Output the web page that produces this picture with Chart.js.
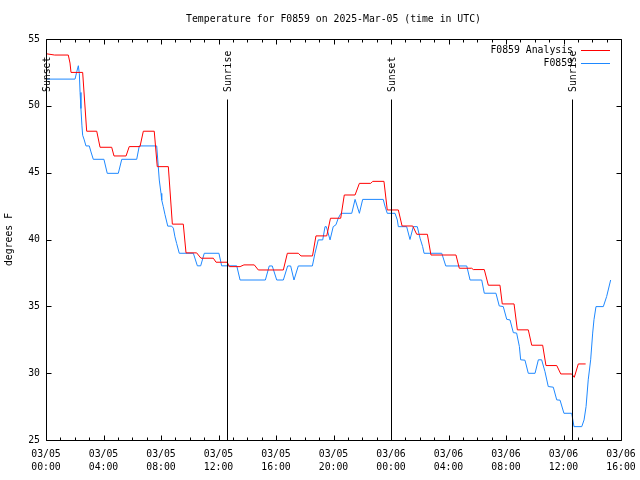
<!DOCTYPE html>
<html><head><meta charset="utf-8">
<script src="https://cdn.jsdelivr.net/npm/chart.js@4.4.1/dist/chart.umd.min.js"></script>
<style>html,body{margin:0;padding:0;background:#fff;}canvas{display:block;}</style>
</head><body>
<canvas id="c" width="640" height="480"></canvas>
<script>
// Hours since 2025-03-05 00:00 UTC
const analysisHours = [0, 0.6, 1.55, 1.67, 1.74, 2.55, 2.83, 3.53, 3.76, 4.57, 4.73, 5.57, 5.79, 6.54, 6.77, 7.53, 7.74, 8.51, 8.79, 9.55, 9.74, 10.48, 10.78, 11.64, 11.83, 12.61, 12.75, 13.5, 13.77, 14.49, 14.77, 16.51, 16.79, 17.55, 17.74, 18.54, 18.78, 19.53, 19.79, 20.5, 20.75, 21.5, 21.8, 22.59, 22.73, 23.51, 23.74, 24.51, 24.77, 25.51, 25.79, 26.53, 26.78, 28.52, 28.75, 29.61, 29.73, 30.49, 30.77, 31.58, 31.74, 32.56, 32.79, 33.55, 33.79, 34.55, 34.78, 35.53, 35.81, 36.57, 36.75, 37.03, 37.54];
const analysisTemps = [53.9, 53.8, 53.8, 53.2, 52.5, 52.5, 48.1, 48.1, 46.9, 46.9, 46.25, 46.25, 46.95, 46.95, 48.1, 48.1, 45.45, 45.45, 41.15, 41.15, 39.0, 39.0, 38.6, 38.6, 38.3, 38.3, 37.97, 37.97, 38.1, 38.1, 37.72, 37.72, 38.97, 38.97, 38.77, 38.77, 40.27, 40.27, 41.59, 41.59, 43.33, 43.33, 44.2, 44.2, 44.35, 44.35, 42.21, 42.21, 41.01, 41.01, 40.39, 40.39, 38.84, 38.84, 37.85, 37.85, 37.75, 37.75, 36.58, 36.58, 35.18, 35.18, 33.24, 33.24, 32.09, 32.09, 30.57, 30.57, 29.94, 29.94, 29.69, 30.69, 30.69];
const obsHours = [0, 2.02, 2.14, 2.25, 2.32, 2.37, 2.43, 2.5, 2.55, 2.66, 2.78, 3.01, 3.13, 3.29, 4.03, 4.26, 5.03, 5.27, 6.31, 6.49, 7.7, 7.81, 7.88, 8.0, 8.05, 8.16, 8.28, 8.47, 8.74, 8.86, 8.97, 9.09, 9.27, 10.25, 10.53, 10.76, 11.01, 12.03, 12.22, 13.27, 13.5, 15.26, 15.53, 15.74, 16.05, 16.51, 16.81, 17.02, 17.25, 17.55, 18.53, 18.71, 18.94, 19.25, 19.41, 19.5, 19.76, 19.98, 20.17, 20.33, 20.52, 21.27, 21.5, 21.8, 22.03, 23.46, 23.58, 23.74, 24.28, 24.44, 24.51, 25.09, 25.32, 25.55, 25.83, 26.02, 26.2, 26.3, 27.53, 27.81, 29.27, 29.5, 30.31, 30.49, 31.3, 31.53, 31.81, 32.05, 32.28, 32.51, 32.74, 32.93, 33.02, 33.32, 33.55, 34.02, 34.25, 34.48, 34.71, 34.94, 35.29, 35.53, 35.76, 36.03, 36.57, 36.73, 37.27, 37.43, 37.57, 37.72, 37.89, 38.03, 38.12, 38.26, 38.77, 39.0, 39.28];
const obsTemps = [52.0, 52.0, 52.55, 53.0, 52.4, 51.0, 49.8, 48.5, 47.8, 47.45, 47.0, 47.0, 46.55, 46.0, 46.0, 44.95, 44.95, 46.0, 46.0, 47.0, 47.0, 45.45, 44.45, 43.45, 42.95, 42.45, 41.85, 41.0, 41.0, 40.85, 40.2, 39.7, 38.97, 38.97, 38.03, 38.03, 38.97, 38.97, 38.03, 38.03, 36.97, 36.97, 38.02, 38.02, 36.97, 36.97, 38.02, 38.02, 36.97, 38.02, 38.02, 38.97, 39.97, 39.97, 40.96, 40.96, 39.97, 40.96, 41.1, 41.59, 41.96, 41.96, 43.0, 41.96, 43.0, 43.0, 42.5, 41.96, 41.96, 41.46, 40.96, 40.96, 40.0, 40.96, 40.96, 40.1, 39.47, 38.97, 38.97, 38.02, 38.02, 36.97, 36.97, 35.98, 35.98, 35.03, 34.98, 34.03, 33.98, 33.03, 33.0, 32.0, 31.0, 30.97, 29.99, 29.99, 31.0, 31.0, 30.12, 29.0, 28.95, 28.0, 27.98, 27.0, 27.0, 26.0, 26.0, 26.5, 27.5, 29.5, 31.0, 33.0, 34.0, 34.98, 34.98, 35.73, 36.97];
const eventHours = [0, 12.62, 24.02, 36.58];
const eventLabels = ['Sunset', 'Sunrise', 'Sunset', 'Sunrise'];
const tickHours = [0, 4, 8, 12, 16, 20, 24, 28, 32, 36, 40];
const tickDates = ['03/05', '03/05', '03/05', '03/05', '03/05', '03/05', '03/06', '03/06', '03/06', '03/06', '03/06'];
const tickTimes = ['00:00', '04:00', '08:00', '12:00', '16:00', '20:00', '00:00', '04:00', '08:00', '12:00', '16:00'];
const yTicks = [25, 30, 35, 40, 45, 50, 55];
const chartTitle = 'Temperature for F0859 on 2025-Mar-05 (time in UTC)';

const FONT = "'DejaVu Sans Mono', 'Liberation Mono', monospace";
const FS = 9.8;

const decorPlugin = {
  id: 'decor',
  afterDatasetsDraw(chart) {
    const { ctx, chartArea: a, scales: { x, y } } = chart;
    const L = Math.round(a.left) + 0.5, R = Math.round(a.right) + 0.5;
    const T = Math.round(a.top) + 0.5, B = Math.round(a.bottom) + 0.5;
    ctx.save();
    ctx.strokeStyle = '#000';
    ctx.lineWidth = 1;
    ctx.beginPath();
    ctx.rect(L, T, R - L, B - T);
    for (let h = x.min; h <= x.max; h++) {
      const px = Math.round(x.getPixelForValue(h)) + 0.5;
      const len = (h % 4 === 0) ? 5 : 3;
      ctx.moveTo(px, B); ctx.lineTo(px, B - len);
      ctx.moveTo(px, T); ctx.lineTo(px, T + len);
    }
    y.ticks.forEach(t => {
      const py = Math.round(y.getPixelForValue(t.value)) + 0.5;
      ctx.moveTo(L, py); ctx.lineTo(L + 5, py);
      ctx.moveTo(R, py); ctx.lineTo(R - 5, py);
    });
    eventHours.forEach(h => {
      const px = Math.round(x.getPixelForValue(h)) + 0.5;
      ctx.moveTo(px, T + 60); ctx.lineTo(px, B);
    });
    ctx.stroke();
    ctx.fillStyle = '#000';
    ctx.font = FS + 'px ' + FONT;
    // title centred over the plot area
    ctx.textAlign = 'center';
    ctx.textBaseline = 'middle';
    ctx.fillText(chartTitle, (a.left + a.right) / 2, 19.5);
    // event labels
    eventHours.forEach((h, i) => {
      const px = x.getPixelForValue(h) + 1.5;
      ctx.save();
      ctx.translate(px, a.top + 53);
      ctx.rotate(-Math.PI / 2);
      ctx.textAlign = 'left';
      ctx.textBaseline = 'middle';
      ctx.fillText(eventLabels[i], 0, 0);
      ctx.restore();
    });
    // legend
    chart.data.datasets.forEach((ds, i) => {
      const ly = Math.round(a.top + 10.5 + i * 13) + 0.5;
      ctx.textAlign = 'right';
      ctx.textBaseline = 'middle';
      ctx.fillStyle = '#000';
      ctx.fillText(ds.label, a.right - 48, ly);
      ctx.strokeStyle = ds.borderColor;
      ctx.beginPath();
      ctx.moveTo(a.right - 40, ly); ctx.lineTo(a.right - 11, ly);
      ctx.stroke();
    });
    ctx.restore();
  }
};

new Chart(document.getElementById('c'), {
  type: 'line',
  data: {
    datasets: [
      { label: 'F0859 Analysis', data: analysisHours.map((h, i) => ({ x: h, y: analysisTemps[i] })),
        borderColor: '#ff0000', borderWidth: 1, pointRadius: 0, tension: 0, fill: false },
      { label: 'F0859', data: obsHours.map((h, i) => ({ x: h, y: obsTemps[i] })),
        borderColor: '#1e88ff', borderWidth: 1, pointRadius: 0, tension: 0, fill: false }
    ]
  },
  options: {
    responsive: false, animation: false, devicePixelRatio: 1,
    layout: { padding: { left: 0, right: 19, top: 39, bottom: 0 } },
    plugins: {
      legend: { display: false },
      tooltip: { enabled: false },
      title: { display: false }
    },
    scales: {
      x: {
        type: 'linear', min: 0, max: 40,
        grid: { display: false, drawTicks: false }, border: { display: false },
        afterBuildTicks(s) { s.ticks = tickHours.map(v => ({ value: v })); },
        ticks: { autoSkip: false, maxRotation: 0, padding: 8, color: '#000',
          font: { family: FONT, size: FS, lineHeight: 1.3 },
          callback: (v) => { const i = tickHours.indexOf(v); return [tickDates[i], tickTimes[i]]; } },
        afterFit(s) { s.height = 40; s.paddingLeft = 0; s.paddingRight = 0; }
      },
      y: {
        type: 'linear', min: 25, max: 55,
        grid: { display: false, drawTicks: false }, border: { display: false },
        afterBuildTicks(s) { s.ticks = yTicks.map(v => ({ value: v })); },
        ticks: { padding: 6, color: '#000', font: { family: FONT, size: FS } },
        title: { display: true, text: 'degrees F', color: '#000', font: { family: FONT, size: FS, lineHeight: 1.2 }, padding: { top: 4, bottom: 0 } },
        afterFit(s) { s.width = 46; s.paddingTop = 0; s.paddingBottom = 0; }
      }
    }
  },
  plugins: [decorPlugin]
});
</script>
</body></html>
